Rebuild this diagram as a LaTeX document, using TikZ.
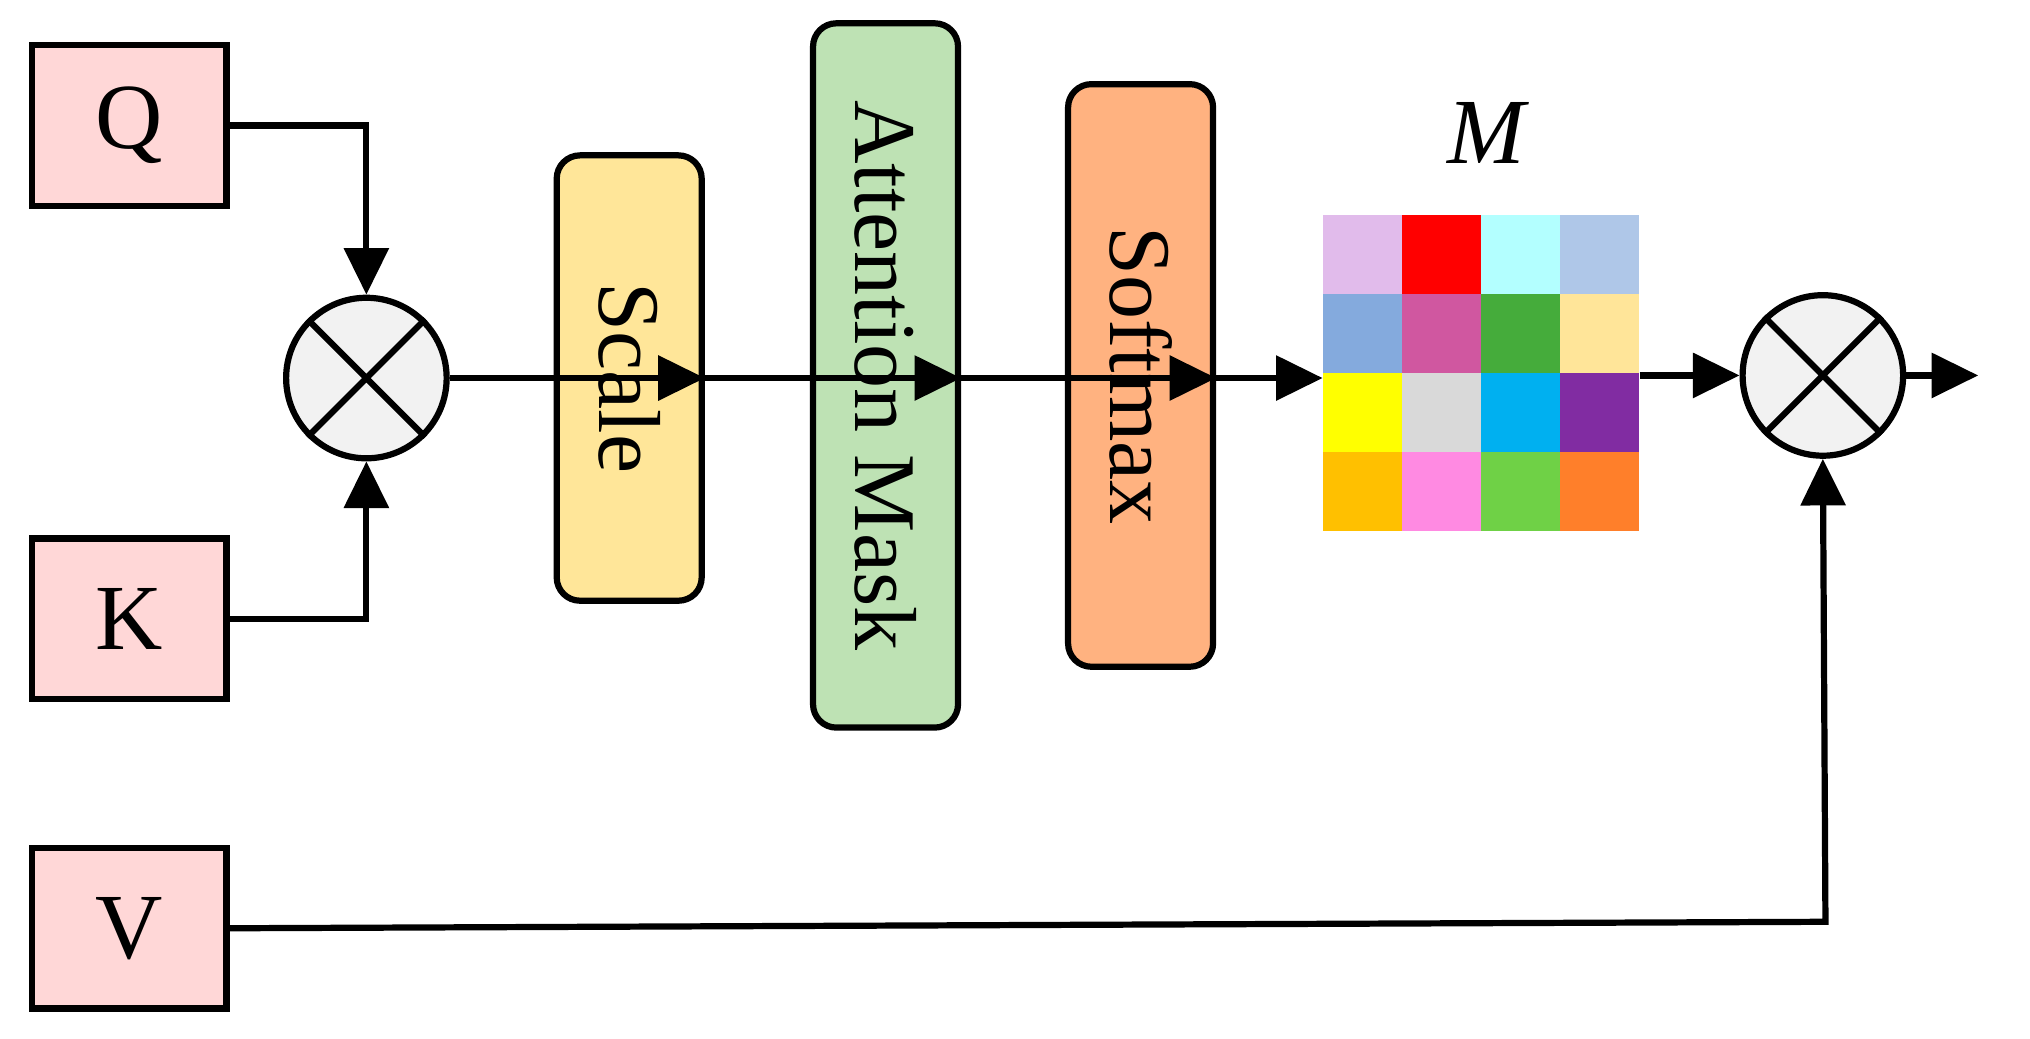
\documentclass[tikz,border=0pt]{standalone}
\usepackage{fontspec}
\setmainfont{Liberation Serif}
\usetikzlibrary{arrows.meta}
\definecolor{pinkb}{HTML}{FFD7D7}
\definecolor{gcirc}{HTML}{F2F2F2}
\begin{document}
\begin{tikzpicture}[x=0.5pt,y=-0.5pt,
  inp/.style={draw,line width=2.4pt,fill=pinkb,minimum width=75pt,minimum height=62pt,font=\fontsize{36}{40}\selectfont},
  blk/.style={draw,line width=2.4pt,rounded corners=9pt,minimum height=56pt,font=\fontsize{34}{38}\selectfont,rotate=-90},
  mul/.style={draw,circle,line width=2.4pt,fill=gcirc,minimum size=62pt},
  ar/.style={line width=2.4pt,-{Triangle[length=18pt,width=17pt]}},
  ln/.style={line width=2.4pt}]
\useasboundingbox (0,0) rectangle (1568,802);
\node[inp] (Q) at (100,97) {Q};
\node[inp] (K) at (100,478) {K};
\node[inp] (V) at (100,717) {V};
\node[mul] (m1) at (283,292) {};
\draw[ln] (m1.45)--(m1.225) (m1.135)--(m1.315);
\node[blk,fill={rgb,255:red,255;green,230;blue,153},minimum width=172pt] (S) at (486,292) {Scale};
\node[blk,fill={rgb,255:red,190;green,226;blue,180},minimum width=272pt] (A) at (684,290) {Attention Mask};
\node[blk,fill={rgb,255:red,255;green,178;blue,128},minimum width=225pt] (F) at (881,290) {Softmax};
\foreach \c [count=\i from 0] in {E1BBEB,FF0000,B3FFFF,AFC7E8,84AADD,D057A0,45AC3B,FFE599,FFFF00,D9D9D9,00B0F0,812CA2,FFC000,FF8AE2,6FD146,FF7F2A}{
  \pgfmathtruncatemacro\r{int(\i/4)}
  \pgfmathtruncatemacro\cc{mod(\i,4)}
  \definecolor{tmp}{HTML}{\c}
  \fill[tmp] (1022+61*\cc,166+61*\r) rectangle ++(61,61);
}
\node[minimum width=122pt,minimum height=122pt,inner sep=0] (M) at (1144,288) {};
\node[font=\fontsize{36}{40}\selectfont\itshape] (Ml) at (1148,103) {M};
\node[mul] (m2) at (1408,290) {};
\draw[ln] (m2.45)--(m2.225) (m2.135)--(m2.315);
\coordinate (out) at (1528,290);
\draw[ar] (Q.east) -| (m1.north);
\draw[ar] (K.east) -| (m1.south);
\draw[ar] (m1.east) -- (S.north);
\draw[ar] (S.south) -- (A.north|-S.south);
\draw[ar] (A.south|-S.south) -- (F.north|-S.south);
\draw[ar] (F.south|-S.south) -- (M.west|-S.south);
\draw[ar] (M.east|-m2) -- (m2.west);
\draw[ar] (m2.east) -- (out);
\draw[ar] (V.east) -- (1410,712) -- (m2.south);
\end{tikzpicture}
\end{document}
